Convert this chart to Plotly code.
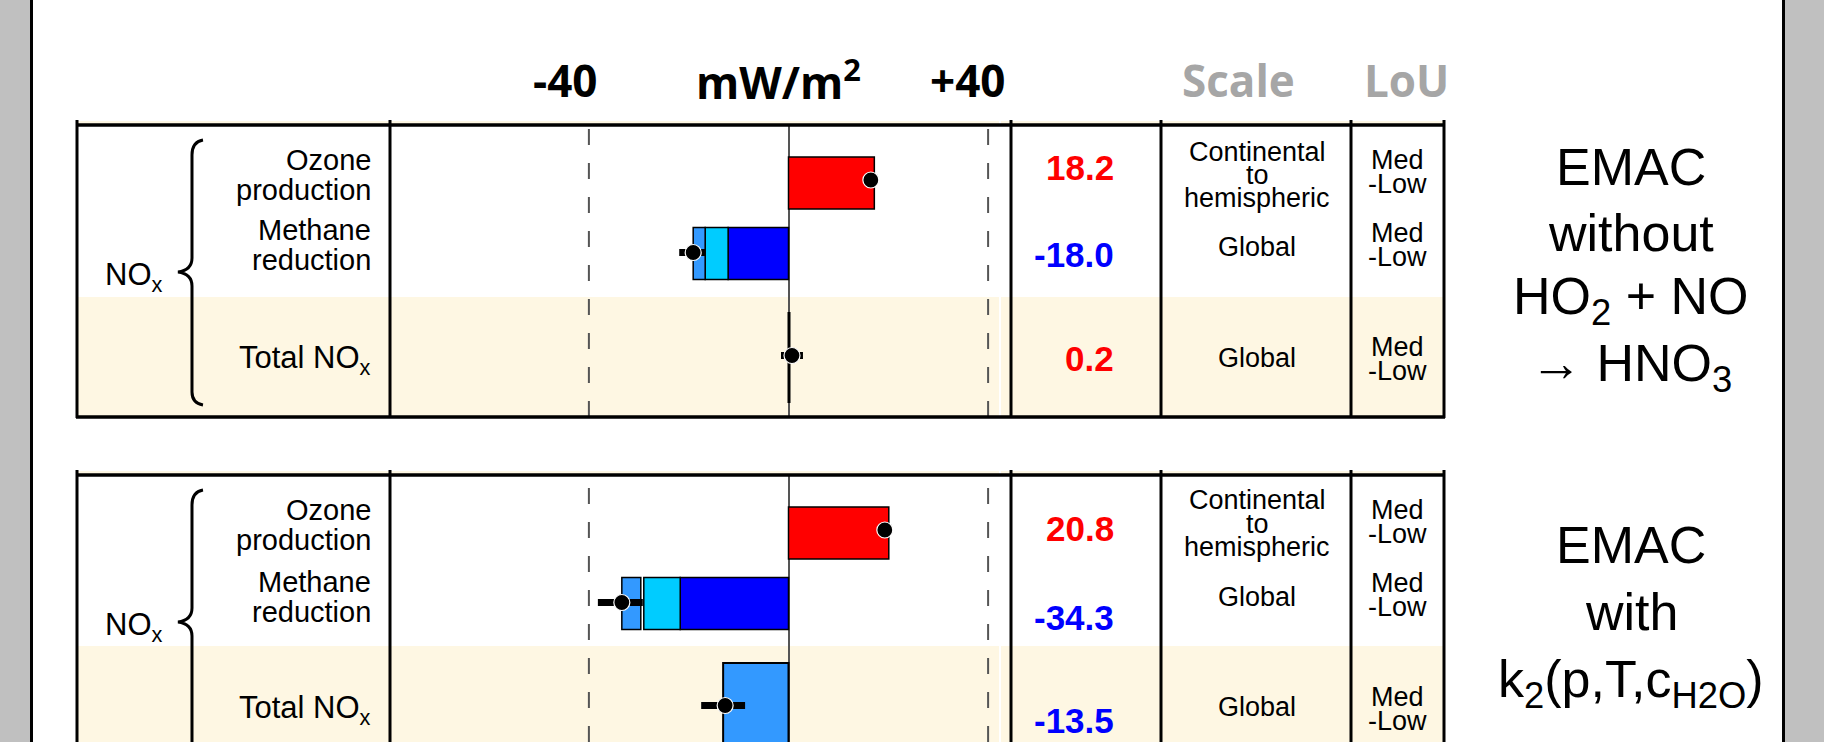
import plotly.graph_objects as go

# ---------------- data ----------------
CATEGORIES = ["Ozone production", "Methane reduction", "Total NOx"]
HEADER_LABELS = ["-40", "mW/m<sup>2</sup>", "+40", "Scale", "LoU"]

# panel 1: EMAC without HO2 + NO -> HNO3 ; panel 2: EMAC with k2(p,T,cH2O)
OZONE = [17.2, 20.1]
METHANE_DARK = [-12.1, -21.7]
METHANE_CYAN = [-4.6, -7.3]
METHANE_GAP = [0.0, -0.6]
METHANE_LIGHT = [-2.4, -3.8]
TOTAL = [0.2, -13.1]

DOTS_1 = [16.5, -19.1, 0.7]
ERR_PLUS_1 = [0.8, 2.4, 2.2]
ERR_MINUS_1 = [0.8, 2.8, 2.2]
DOTS_2 = [19.3, -33.4, -12.7]
ERR_PLUS_2 = [0.8, 4.2, 4.0]
ERR_MINUS_2 = [0.8, 4.8, 4.8]

VALUES_1 = [18.2, -18.0, 0.2]
VALUES_2 = [20.8, -34.3, -13.5]

SCALE_LABELS = [["Continental", "to", "hemispheric"], ["Global"], ["Global"]]
LOU_LABELS = ["Med", "-Low"]
MODEL_1 = ["EMAC", "without", "HO<sub>2</sub> + NO", "\u2192 HNO<sub>3</sub>"]
MODEL_2 = ["EMAC", "with", "k<sub>2</sub>(p,T,c<sub>H2O</sub>)"]

# ---------------- layout constants (pixels) ----------------
W, H = 1824, 742
def PX(x): return x / W
def PY(y): return 1 - y / H

ZERO_PX, SCALE_PX = 788.5, 4.99          # px of zero, px per mW/m2
CHART_L, CHART_R = 390, 1000
XR = [(CHART_L - ZERO_PX) / SCALE_PX, (CHART_R - ZERO_PX) / SCALE_PX]
PANEL_TOP = [125, 475]
PANEL_BOT = [417, 742]
CREAM_TOP = [297, 646]
ROW_Y = [58, 128.5, 232.5]               # row centres, px below panel top
BAR_W = [52, 52, 89]
COLS = [77, 390, 1011, 1161, 1351, 1444]

RED, BLUE, CYAN, LBLUE = "#FF0000", "#0000FF", "#00CCFF", "#3399FF"
CREAM = "#FEF7E3"
SANS = "Liberation Sans"

fig = go.Figure()

def add_panel(i):
    xa = "x" if i == 0 else "x2"
    ya = "y" if i == 0 else "y2"
    outline = dict(color="black", width=1.5)
    fig.add_trace(go.Bar(x=[OZONE[i]], y=[ROW_Y[0]], width=[BAR_W[0]], base=[0],
                         orientation="h", marker=dict(color=RED, line=outline),
                         xaxis=xa, yaxis=ya, showlegend=False))
    b1 = METHANE_DARK[i]
    b2 = b1 + METHANE_CYAN[i]
    b3 = b2 + METHANE_GAP[i]
    for base, val, col in [(0, METHANE_DARK[i], BLUE), (b1, METHANE_CYAN[i], CYAN),
                           (b3, METHANE_LIGHT[i], LBLUE)]:
        fig.add_trace(go.Bar(x=[val], y=[ROW_Y[1]], width=[BAR_W[1]], base=[base],
                             orientation="h", marker=dict(color=col, line=outline),
                             xaxis=xa, yaxis=ya, showlegend=False))
    fig.add_trace(go.Bar(x=[TOTAL[i]], y=[ROW_Y[2]], width=[BAR_W[2]], base=[0],
                         orientation="h",
                         marker=dict(color=(RED if TOTAL[i] > 0 else LBLUE),
                                     line=dict(color="black", width=2)),
                         xaxis=xa, yaxis=ya, showlegend=False))
    dots = DOTS_1 if i == 0 else DOTS_2
    ep = ERR_PLUS_1 if i == 0 else ERR_PLUS_2
    em = ERR_MINUS_1 if i == 0 else ERR_MINUS_2
    fig.add_trace(go.Scatter(x=dots, y=[ROW_Y[0] - 3, ROW_Y[1] - 1, ROW_Y[2] - 2],
                             mode="markers", xaxis=xa, yaxis=ya, showlegend=False,
                             marker=dict(size=16, color="black",
                                         line=dict(color="white", width=1.2)),
                             error_x=dict(type="data", array=ep, arrayminus=em,
                                          thickness=7, width=0, color="black")))

add_panel(0)
add_panel(1)

shapes = []
annotations = []

# grey outer frame
shapes.append(dict(type="rect", xref="paper", yref="paper", x0=0, x1=PX(30), y0=0, y1=1,
                   fillcolor="#C0C0C0", line=dict(width=0), layer="below"))
shapes.append(dict(type="rect", xref="paper", yref="paper", x0=PX(1785), x1=1, y0=0, y1=1,
                   fillcolor="#C0C0C0", line=dict(width=0), layer="below"))
for xx in [31.5, 1783.5]:
    shapes.append(dict(type="line", xref="paper", yref="paper", x0=PX(xx), x1=PX(xx),
                       y0=0, y1=1, line=dict(color="black", width=3)))

for i in range(2):
    top, bot = PANEL_TOP[i], PANEL_BOT[i]
    shapes.append(dict(type="rect", xref="paper", yref="paper", x0=PX(COLS[0]), x1=PX(COLS[-1]),
                       y0=PY(bot), y1=PY(CREAM_TOP[i]), fillcolor=CREAM,
                       line=dict(width=0), layer="below"))
    shapes.append(dict(type="rect", xref="paper", yref="paper", x0=PX(COLS[0]), x1=PX(COLS[-1]),
                       y0=PY(top), y1=PY(top - 4), fillcolor=CREAM,
                       line=dict(width=0), layer="below"))
    xa = "x" if i == 0 else "x2"
    ya = "y" if i == 0 else "y2"
    for v in [-40, 40]:
        shapes.append(dict(type="line", xref=xa, yref=ya + " domain", x0=v, x1=v, y0=0, y1=1,
                           line=dict(color="#555555", width=2, dash="16px,18px")))
    shapes.append(dict(type="line", xref="paper", yref="paper", x0=PX(CHART_R), x1=PX(CHART_R),
                       y0=PY(min(bot + 2, H)), y1=PY(top - 4), line=dict(color="white", width=2)))
    for yy in [top, bot]:
        if yy < H:
            shapes.append(dict(type="line", xref="paper", yref="paper", x0=PX(COLS[0] - 1),
                               x1=PX(COLS[-1] + 1), y0=PY(yy), y1=PY(yy),
                               line=dict(color="black", width=3.5)))
    for c in COLS:
        shapes.append(dict(type="line", xref="paper", yref="paper", x0=PX(c), x1=PX(c),
                           y0=PY(min(bot + 1, H)), y1=PY(top - 5),
                           line=dict(color="black", width=3)))
    # brace
    t = top + 15
    tip = top + 147
    b = top + 280
    pts = [(203, t), (192, t + 2), (192, t + 15), (192, tip - 14), (192, tip - 2), (178, tip),
           (192, tip + 2), (192, tip + 14), (192, b - 13), (192, b - 2), (203, b)]
    p = lambda q: f"{PX(q[0]):.5f},{PY(q[1]):.5f}"
    path = (f"M {p(pts[0])} Q {p(pts[1])} {p(pts[2])} L {p(pts[3])} Q {p(pts[4])} {p(pts[5])} "
            f"Q {p(pts[6])} {p(pts[7])} L {p(pts[8])} Q {p(pts[9])} {p(pts[10])}")
    shapes.append(dict(type="path", xref="paper", yref="paper", path=path,
                       line=dict(color="black", width=3)))

def txt(x, y, s, size, color="black", anchor="center", bold=False, family=SANS):
    annotations.append(dict(xref="paper", yref="paper", x=PX(x), y=PY(y), text=s,
                            showarrow=False, xanchor=anchor, yanchor="middle",
                            font=dict(family=family, size=size, color=color,
                                      weight=("bold" if bold else "normal"))))

HEADER_X = [565, 778, 967, 1238, 1406]
HEADER_COL = ["black", "black", "black", "#A6A6A6", "#A6A6A6"]
for s, x, c in zip(HEADER_LABELS, HEADER_X, HEADER_COL):
    txt(x, 80, s, 44, color=c, bold=True, family="Open Sans")

for i in range(2):
    off = PANEL_TOP[i] - PANEL_TOP[0]
    txt(373, 160 + off, "Ozone", 29, anchor="right")
    txt(373, 190 + off, "production", 29, anchor="right")
    txt(373, 230 + off + (2 if i else 0), "Methane", 29, anchor="right")
    txt(373, 260 + off + (2 if i else 0), "reduction", 29, anchor="right")
    txt(373, 360 + off, "Total NO<sub>x</sub>", 31, anchor="right")
    txt(103, 277 + off, "NO<sub>x</sub>", 31, anchor="left")
    vals = VALUES_1 if i == 0 else VALUES_2
    vy = [167, 255, 358] if i == 0 else [528, 617, 720]
    for v, y in zip(vals, vy):
        txt(1116, y, f"{v:.1f}", 35, color=(RED if v > 0 else BLUE), anchor="right", bold=True)
    sy = [[152, 175, 198], [247], [358]] if i == 0 else [[500, 524, 547], [597], [707]]
    for labels, ys in zip(SCALE_LABELS, sy):
        for s, y in zip(labels, ys):
            txt(1257, y, s, 27)
    ly = [160, 233, 347] if i == 0 else [510, 583, 697]
    for y in ly:
        txt(1397, y, LOU_LABELS[0], 27)
        txt(1397, y + 24, LOU_LABELS[1], 27)
    lines = MODEL_1 if i == 0 else MODEL_2
    my = [167, 233, 300, 367] if i == 0 else [545, 612, 683]
    for s, y in zip(lines, my):
        txt(1631, y, s, 52)

ax_common = dict(showgrid=False, showticklabels=False, ticks="", showline=False)
fig.update_layout(
    width=W, height=H, margin=dict(l=0, r=0, t=0, b=0),
    paper_bgcolor="white", plot_bgcolor="rgba(0,0,0,0)",
    barmode="overlay", showlegend=False,
    xaxis=dict(domain=[PX(CHART_L), PX(CHART_R)], range=XR, anchor="y",
               zeroline=True, zerolinecolor="#555555", zerolinewidth=1.5, **ax_common),
    yaxis=dict(domain=[PY(PANEL_BOT[0]), PY(PANEL_TOP[0])],
               range=[PANEL_BOT[0] - PANEL_TOP[0], 0], anchor="x", zeroline=False, **ax_common),
    xaxis2=dict(domain=[PX(CHART_L), PX(CHART_R)], range=XR, anchor="y2",
                zeroline=True, zerolinecolor="#555555", zerolinewidth=1.5, **ax_common),
    yaxis2=dict(domain=[0, PY(PANEL_TOP[1])],
                range=[PANEL_BOT[1] - PANEL_TOP[1], 0], anchor="x2", zeroline=False, **ax_common),
    shapes=shapes, annotations=annotations,
)

fig.write_html("out.html", config={"displayModeBar": False},
               post_script="document.body.style.margin='0';document.body.style.overflow='hidden';")
